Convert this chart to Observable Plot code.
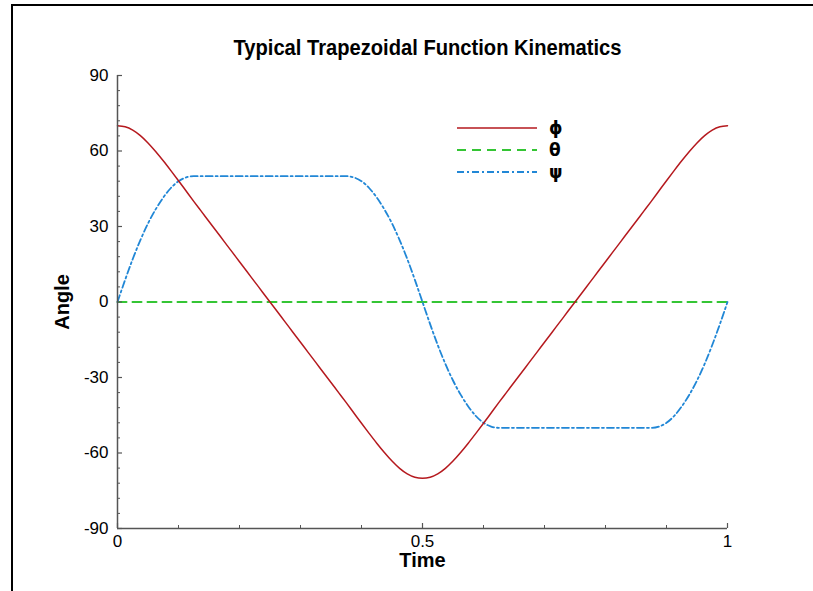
<!DOCTYPE html>
<html><head><meta charset="utf-8">
<script src="https://cdn.jsdelivr.net/npm/d3@7"></script>
<script src="https://cdn.jsdelivr.net/npm/@observablehq/plot@0.6"></script>
<style>
html,body{margin:0;padding:0;background:#fff;overflow:hidden}
#wrap{position:relative;width:813px;height:591px;overflow:hidden;font-family:Arial,"Liberation Sans",sans-serif}
#frameTop{position:absolute;left:11px;top:4px;width:802px;height:2px;background:#000}
#frameLeft{position:absolute;left:11px;top:4px;width:2px;height:587px;background:#000}
#chart{position:absolute;left:0;top:0}
#legend{position:absolute;left:0;top:0}
</style></head><body>
<div id="wrap"><div id="chart"></div><svg id="legend" width="813" height="591"></svg><div id="frameTop"></div><div id="frameLeft"></div></div>
<script>
// sampling step of the time axis (t = 0 … 1)
const timeStep = 0.0125;

// φ (one value per time step)
const phiValues = [
  70, 69.6, 68.3, 66.1, 63.2, 59.8, 56.1, 52.2, 48.2, 44.1, 40.0, 36.0, 32.0, 28.0, 24.0, 20.0, 16.0, 12.0, 8.0, 4.0, 0,
  -4.0, -8.0, -12.0, -16.0, -20.0, -24.0, -28.0, -32.0, -36.0, -40.0, -44.1, -48.2, -52.2, -56.1, -59.8, -63.2, -66.1, -68.3, -69.6, -70,
  -69.6, -68.3, -66.1, -63.2, -59.8, -56.1, -52.2, -48.2, -44.1, -40.0, -36.0, -32.0, -28.0, -24.0, -20.0, -16.0, -12.0, -8.0, -4.0, 0,
  4.0, 8.0, 12.0, 16.0, 20.0, 24.0, 28.0, 32.0, 36.0, 40.0, 44.1, 48.2, 52.2, 56.1, 59.8, 63.2, 66.1, 68.3, 69.6, 70
];

// θ (constant zero)
const thetaTimes = [0, 1];
const thetaValues = [0, 0];

// ψ (one value per time step)
const psiValues = [
  0, 8.8, 17.1, 24.6, 31.2, 36.8, 41.5, 45.3, 48.0, 49.5, 50,
  50, 50, 50, 50, 50, 50, 50, 50, 50, 50, 50, 50, 50, 50, 50, 50, 50, 50, 50, 50,
  49.5, 48.0, 45.3, 41.5, 36.8, 31.2, 24.6, 17.1, 8.8, 0,
  -8.8, -17.1, -24.6, -31.2, -36.8, -41.5, -45.3, -48.0, -49.5, -50,
  -50, -50, -50, -50, -50, -50, -50, -50, -50, -50, -50, -50, -50, -50, -50, -50, -50, -50, -50, -50,
  -49.5, -48.0, -45.3, -41.5, -36.8, -31.2, -24.6, -17.1, -8.8, 0
];

// axes
const yTicks = [-90, -60, -30, 0, 30, 60, 90];
const yMinorTicks = [-84,-78,-72,-66,-54,-48,-42,-36,-24,-18,-12,-6,6,12,18,24,36,42,48,54,66,72,78,84];
const xTicks = [0, 0.5, 1];
const xMinorTicks = [0.1, 0.2, 0.3, 0.4, 0.6, 0.7, 0.8, 0.9];

// series
const seriesNames = ["\u03d5", "\u03b8", "\u03c8"];
const seriesColors = ["#b5191e", "#34c534", "#2187d6"];
const seriesDash = [null, "9,6", "7,3,2,3"];
const seriesWidth = [1.5, 2, 1.8];

const titleText = "Typical Trapezoidal Function Kinematics";

const phiRows = phiValues.map((v, i) => ({t: i * timeStep, v}));
const psiRows = psiValues.map((v, i) => ({t: i * timeStep, v}));
const thetaRows = thetaValues.map((v, i) => ({t: thetaTimes[i], v}));

const W = 813, H = 591, mL = 117, mR = 86, mT = 75, mB = 63;
const pw = W - mL - mR, ph = H - mT - mB;
const axisColor = "#555";
const font = "Arial, 'Liberation Sans', sans-serif";

const chart = Plot.plot({
  width: W, height: H,
  marginLeft: mL, marginRight: mR, marginTop: mT, marginBottom: mB,
  style: {fontFamily: font, background: "transparent", overflow: "visible"},
  x: {domain: [0, 1], axis: null},
  y: {domain: [-90, 90], axis: null},
  marks: [
    Plot.line(thetaRows, {x: "t", y: "v", stroke: seriesColors[1], strokeWidth: seriesWidth[1], strokeDasharray: seriesDash[1]}),
    Plot.line(psiRows, {x: "t", y: "v", stroke: seriesColors[2], strokeWidth: seriesWidth[2], strokeDasharray: seriesDash[2], curve: "monotone-x"}),
    Plot.line(phiRows, {x: "t", y: "v", stroke: seriesColors[0], strokeWidth: seriesWidth[0], curve: "monotone-x"}),
    // axis lines
    Plot.ruleX([0], {stroke: axisColor, strokeWidth: 1.5}),
    Plot.ruleY([-90], {stroke: axisColor, strokeWidth: 1.5}),
    // inward ticks
    Plot.tickY(yTicks, {y: d => d, stroke: axisColor, strokeWidth: 1.2, insetRight: pw - 5}),
    Plot.tickY(yMinorTicks, {y: d => d, stroke: axisColor, strokeWidth: 1, insetRight: pw - 3}),
    Plot.tickX(xTicks, {x: d => d, stroke: axisColor, strokeWidth: 1.2, insetTop: ph - 5}),
    Plot.tickX(xMinorTicks, {x: d => d, stroke: axisColor, strokeWidth: 1, insetTop: ph - 3}),
    // tick labels
    Plot.axisY(yTicks, {tickSize: 0, tickPadding: 9, fontSize: 17, label: null, color: "#000", tickFormat: d => String(d)}),
    Plot.axisX(xTicks, {tickSize: 0, tickPadding: 6, fontSize: 17, label: null, tickFormat: d => String(d), color: "#000"}),
    // axis titles
    Plot.text(["Time"], {frameAnchor: "bottom", lineAnchor: "middle", dy: 32, text: d => d, fontSize: 20, fontWeight: "bold", fill: "#000"}),
    Plot.text(["Angle"], {frameAnchor: "left", textAnchor: "middle", lineAnchor: "middle", dx: -55, rotate: -90, text: d => d, fontSize: 20, fontWeight: "bold", fill: "#000"}),
    // title
    Plot.text([titleText], {frameAnchor: "top", lineAnchor: "middle", dy: -28, dx: 5, text: d => d, fontSize: 22, fontWeight: "bold", fill: "#000"})
  ]
});
document.getElementById("chart").appendChild(chart);

// title is a condensed face in the original: fit it to its width
d3.select(chart).selectAll("text").filter(function() { return this.textContent === titleText; })
  .attr("textLength", 388).attr("lengthAdjust", "spacingAndGlyphs");

// legend
const leg = d3.select("#legend");
const legX0 = 457, legX1 = 537, legY0 = 128, legDy = 22, legTextX = 549;
seriesNames.forEach((name, i) => {
  const y = legY0 + i * legDy;
  leg.append("line").attr("x1", legX0).attr("x2", legX1).attr("y1", y).attr("y2", y)
    .attr("stroke", seriesColors[i]).attr("stroke-width", seriesWidth[i])
    .attr("stroke-dasharray", seriesDash[i]);
  leg.append("text").attr("x", legTextX).attr("y", y).attr("dy", "0.35em")
    .attr("font-family", "'DejaVu Sans', Arial, sans-serif").attr("font-weight", "bold").attr("font-size", 17)
    .text(name);
});
</script>
</body></html>
